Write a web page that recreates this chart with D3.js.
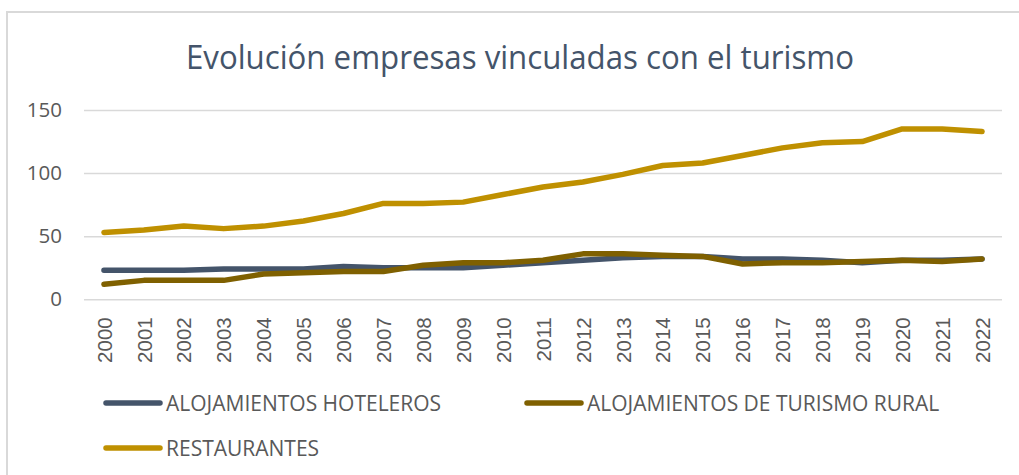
<!DOCTYPE html>
<html>
<head>
<meta charset="utf-8">
<script src="https://cdn.jsdelivr.net/npm/d3@7"></script>
<style>
  html, body { margin: 0; padding: 0; background: #fff; }
  svg { display: block; }
</style>
</head>
<body>
<svg id="chart" width="1019" height="475"></svg>
<script>
// Number of tourism-related businesses per year
const years = ["2000","2001","2002","2003","2004","2005","2006","2007","2008","2009","2010",
  "2011","2012","2013","2014","2015","2016","2017","2018","2019","2020","2021","2022"];
const hoteleros = [23,23,23,24,24,24,26,25,25,25,27,29,31,33,34,34,32,32,31,29,31,31,32];
const rural = [12,15,15,15,20,21,22,22,27,29,29,31,36,36,35,34,28,29,29,30,31,30,32];
const restaurantes = [53,55,58,56,58,62,68,76,76,77,83,89,93,99,106,108,114,120,124,125,135,135,133];
const yTicks = [0, 50, 100, 150];
const seriesNames = ["ALOJAMIENTOS HOTELEROS", "ALOJAMIENTOS DE TURISMO RURAL", "RESTAURANTES"];
const seriesColors = ["#44546a", "#7f6000", "#bf9000"];
const title = "Evolución empresas vinculadas con el turismo";

const series = [hoteleros, rural, restaurantes].map((values, i) => ({
  name: seriesNames[i], color: seriesColors[i], values
}));

const svg = d3.select("#chart");

// chart frame
svg.append("rect")
  .attr("x", 7).attr("y", 12)
  .attr("width", 1040).attr("height", 500)
  .attr("fill", "none").attr("stroke", "#d9d9d9").attr("stroke-width", 2);

const plot = { left: 84, right: 1002, top: 110, bottom: 299.3 };

const x = d3.scalePoint().domain(years).range([plot.left, plot.right]).padding(0.5);
const y = d3.scaleLinear().domain([0, 150]).range([plot.bottom, plot.top]);

// title, compressed slightly to a condensed width
svg.append("text")
  .attr("x", 520).attr("y", 69)
  .attr("text-anchor", "middle")
  .attr("font-family", "'Open Sans', sans-serif")
  .attr("font-size", 33)
  .attr("fill", "#44546a")
  .attr("textLength", 668)
  .attr("lengthAdjust", "spacingAndGlyphs")
  .text(title);

// horizontal gridlines + y labels
const yAxis = d3.axisLeft(y).tickValues(yTicks).tickSize(-(plot.right - plot.left)).tickPadding(22);
const gy = svg.append("g").attr("transform", `translate(${plot.left},0)`).call(yAxis);
gy.select(".domain").remove();
gy.selectAll(".tick line").attr("stroke", "#d9d9d9").attr("stroke-width", 1.5);
gy.selectAll(".tick text")
  .attr("font-family", "'Open Sans', sans-serif")
  .attr("font-size", 20.5)
  .attr("fill", "#595959");

// x axis: rotated year labels
const xAxis = d3.axisBottom(x).tickSize(0).tickPadding(0);
const gx = svg.append("g").attr("transform", `translate(0,${plot.bottom})`).call(xAxis);
gx.select(".domain").remove();
gx.selectAll(".tick text")
  .attr("font-family", "'Liberation Sans', Arial, sans-serif")
  .attr("font-size", 20.5)
  .attr("fill", "#595959")
  .attr("text-anchor", "end")
  .attr("transform", "translate(0,18) rotate(-90)")
  .attr("x", 0).attr("y", 0).attr("dy", "0.35em");

// series lines
const line = d3.line()
  .x((d, i) => x(years[i]))
  .y(d => y(d));

svg.append("g").selectAll("path")
  .data(series)
  .join("path")
  .attr("d", d => line(d.values))
  .attr("fill", "none")
  .attr("stroke", d => d.color)
  .attr("stroke-width", 5.5)
  .attr("stroke-linecap", "round")
  .attr("stroke-linejoin", "round");

// legend
const legendPos = [
  { lx: 106, ly: 403 },
  { lx: 527, ly: 403 },
  { lx: 106, ly: 448 }
];
const lg = svg.append("g").selectAll("g")
  .data(series)
  .join("g")
  .attr("transform", (d, i) => `translate(${legendPos[i].lx},${legendPos[i].ly})`);
lg.append("line")
  .attr("x1", 0).attr("x2", 54).attr("y1", 0).attr("y2", 0)
  .attr("stroke", d => d.color)
  .attr("stroke-width", 5.5)
  .attr("stroke-linecap", "round");
lg.append("text")
  .attr("x", 60).attr("y", 0).attr("dy", "0.36em")
  .attr("font-family", "'Open Sans', sans-serif")
  .attr("font-size", 21)
  .attr("fill", "#595959")
  .text(d => d.name);
</script>
</body>
</html>
